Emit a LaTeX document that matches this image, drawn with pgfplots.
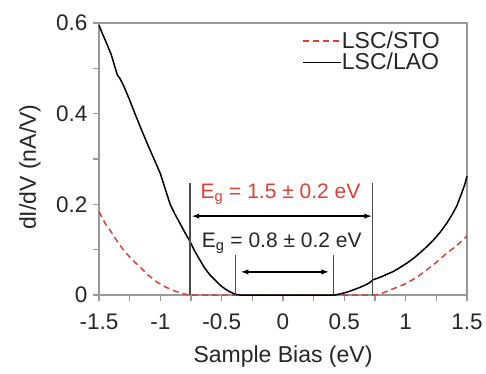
\documentclass[border=0pt]{standalone}
\usepackage{fontspec}
\setmainfont{Liberation Sans}
\usepackage{pgfplots}
\pgfplotsset{compat=1.18}
\definecolor{myred}{RGB}{220,65,55}
\begin{document}
\begin{tikzpicture}
\begin{axis}[
  scale only axis, width=368pt, height=272pt,
  xmin=-1.5, xmax=1.5, ymin=0, ymax=0.6,
  clip=false,
  axis line style={draw=black!40, line width=1.6pt},
  tick style={draw=black!40, line width=1.2pt},
  tick align=outside,
  major tick length=6pt, minor tick length=6pt,
  xtick={-1.5,-1,-0.5,0,0.5,1,1.5},
  xticklabels={-1.5,-1,-0.5,0,0.5,1,1.5},
  minor xtick={-1.25,-0.75,-0.25,0.25,0.75,1.25},
  ytick={0,0.2,0.4,0.6},
  yticklabels={0,0.2,0.4,0.6},
  minor ytick={0.1,0.3,0.5},
  xtick pos=bottom, ytick pos=left,
  tick label style={font=\fontsize{22.5}{26}\selectfont, black!85},
  xticklabel style={yshift=-9pt},
  yticklabel style={xshift=-2pt},
  xlabel={Sample Bias (eV)},
  ylabel={dI/dV (nA/V)},
  label style={font=\fontsize{23}{27}\selectfont, black!85},
  xlabel style={at={(axis description cs:0.5,0)}, anchor=center, yshift=-62pt},
  ylabel style={at={(axis description cs:0,0.47)}, anchor=center, yshift=69pt},
  legend style={draw=none, fill=none, at={(rel axis cs:0.935,0.975)}, anchor=north east,
    font=\fontsize{23}{24}\selectfont, row sep=3pt,
    nodes={inner sep=0pt, text=black!85},
    /tikz/every odd column/.append style={column sep=0pt}},
  legend cell align=left,
  legend image code/.code={\draw[#1] (0pt,0pt) -- (38pt,0pt);},
]
% frame
\addplot[black!40, line width=1.6pt, forget plot] coordinates {(-1.5,0) (-1.5,0.6) (1.5,0.6) (1.5,0) (-1.5,0)};
\addplot[myred, line width=1.5pt, dash pattern=on 6pt off 4pt] coordinates {
(-1.5,0.184) (-1.45,0.158) (-1.41,0.143) (-1.35,0.118) (-1.30,0.099) (-1.23,0.078)
(-1.166,0.062) (-1.10,0.044) (-1.03,0.029) (-0.96,0.018) (-0.894,0.010) (-0.84,0.005)
(-0.785,0.001) (-0.75,0) (0.75,0) (0.81,0.004) (0.872,0.011) (0.94,0.018) (1.008,0.026)
(1.09,0.039) (1.17,0.055) (1.25,0.072) (1.334,0.092) (1.42,0.110) (1.5,0.130)
};
\addlegendentry{LSC/STO}
\addplot[black, line width=1.5pt] coordinates {
(-1.5,0.595) (-1.47,0.575) (-1.4375,0.555) (-1.40,0.530) (-1.37,0.503) (-1.35,0.485)
(-1.33,0.478) (-1.30,0.462) (-1.25,0.430) (-1.207,0.400) (-1.15,0.362) (-1.084,0.320)
(-1.04,0.293) (-1.00,0.268) (-0.96,0.234) (-0.92,0.200) (-0.88,0.178) (-0.84,0.158)
(-0.80,0.138) (-0.758,0.118) (-0.72,0.097) (-0.677,0.077) (-0.64,0.060) (-0.595,0.044)
(-0.55,0.032) (-0.514,0.022) (-0.47,0.013) (-0.432,0.007) (-0.40,0.003) (-0.378,0.001)
(-0.35,0) (0.42,0) (0.46,0.002) (0.49,0.004) (0.53,0.007) (0.57,0.011) (0.61,0.015)
(0.655,0.020) (0.70,0.026) (0.736,0.034) (0.76,0.036) (0.80,0.040) (0.85,0.046)
(0.90,0.052) (0.95,0.060) (1.008,0.070) (1.06,0.080) (1.117,0.093) (1.17,0.106)
(1.226,0.121) (1.28,0.138) (1.334,0.158) (1.38,0.178) (1.416,0.196) (1.45,0.220)
(1.48,0.242) (1.5,0.262)
};
\addlegendentry{LSC/LAO}
% gap markers
\addplot[black!70, line width=1.1pt, forget plot] coordinates {(-0.758,0) (-0.758,0.248)};
\addplot[black!70, line width=1.1pt, forget plot] coordinates {(0.731,0) (0.731,0.248)};
\addplot[black!70, line width=1.1pt, forget plot] coordinates {(-0.386,0) (-0.386,0.088)};
\addplot[black!70, line width=1.1pt, forget plot] coordinates {(0.41,0) (0.41,0.088)};
\addplot[black, line width=1.4pt, {latex}-{latex}, forget plot] coordinates {(-0.74,0.174) (0.72,0.174)};
\addplot[black, line width=1.4pt, {latex}-{latex}, forget plot] coordinates {(-0.34,0.051) (0.37,0.051)};
\node[font=\fontsize{21}{24}\selectfont, text=myred] at (axis cs:-0.02,0.222) {E\textsubscript{g} = 1.5 ± 0.2 eV};
\node[font=\fontsize{21}{24}\selectfont, text=black!85] at (axis cs:-0.01,0.114) {E\textsubscript{g} = 0.8 ± 0.2 eV};
\end{axis}
\pgfresetboundingbox
\path[use as bounding box] (-99pt,-78pt) rectangle (387pt,295pt);
\end{tikzpicture}
\end{document}
